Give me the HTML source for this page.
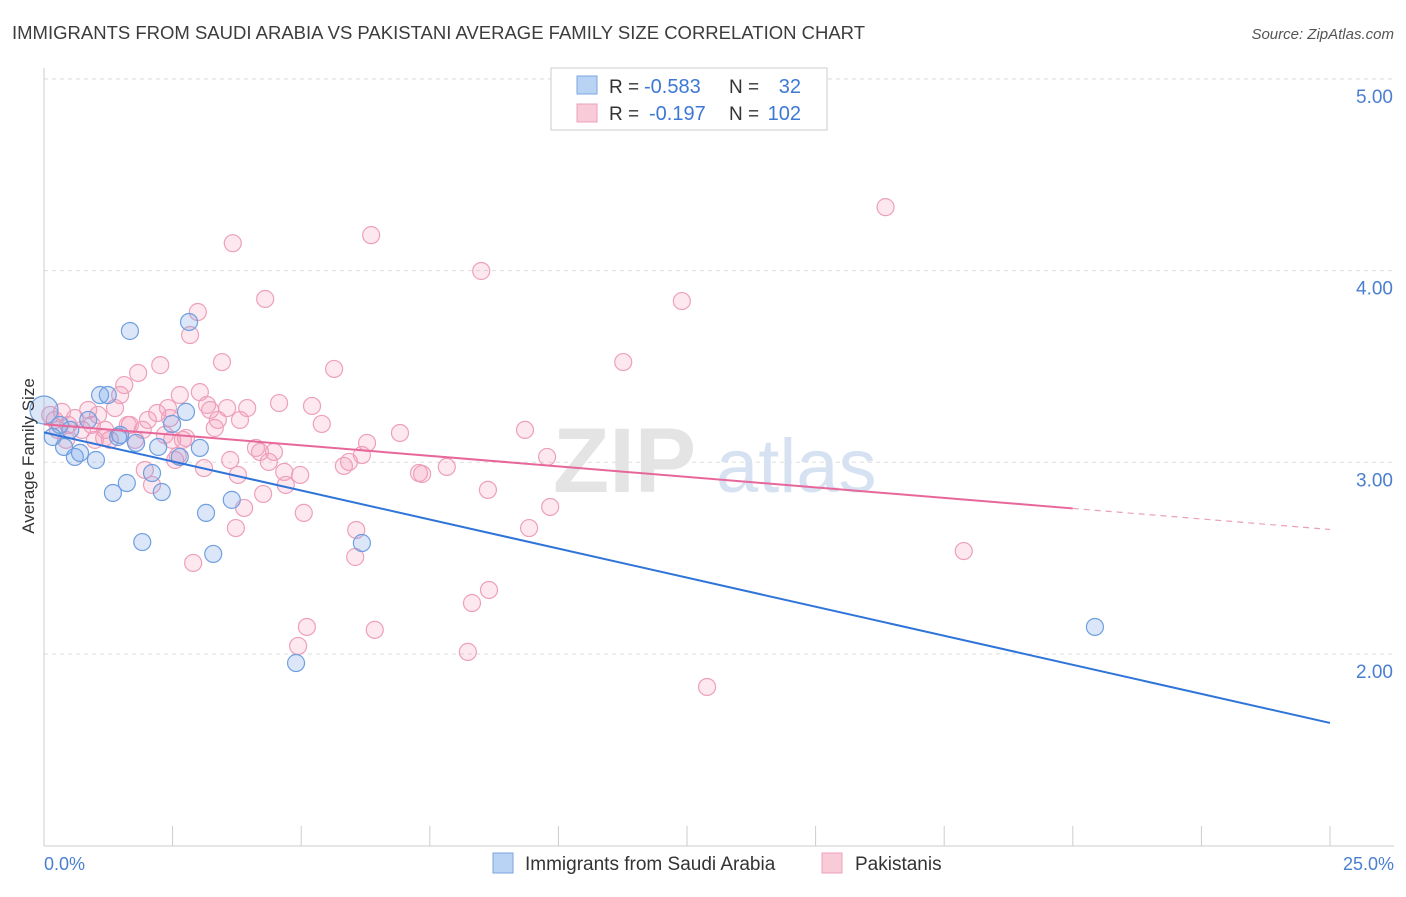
<!DOCTYPE html>
<html><head><meta charset="utf-8"><style>
body{margin:0;background:#fff;font-family:"Liberation Sans",sans-serif;}
svg text{font-family:"Liberation Sans",sans-serif;}
</style></head><body>
<svg id="chart" width="1406" height="892">
<text x="12" y="39" font-size="18" fill="#3c3c3c" textLength="853" lengthAdjust="spacingAndGlyphs">IMMIGRANTS FROM SAUDI ARABIA VS PAKISTANI AVERAGE FAMILY SIZE CORRELATION CHART</text>
<text x="1394" y="39" font-size="15" fill="#555" font-style="italic" text-anchor="end">Source: ZipAtlas.com</text>
<g id="grid"></g>
<g><text x="553" y="492" font-size="92" fill="#e4e4e4" font-family="Liberation Serif" font-weight="bold">ZIP</text><text x="716" y="492" font-size="76" fill="#d6e2f2">atlas</text></g>
<g id="axes"></g>
<g id="pts"></g>
<g id="lines"></g>
<text transform="translate(34,456) rotate(-90)" font-size="17" fill="#333" text-anchor="middle">Average Family Size</text>
<text x="44" y="870" font-size="18" fill="#4a7fd0">0.0%</text>
<text x="1394" y="870" font-size="18" fill="#4a7fd0" text-anchor="end">25.0%</text>
<g>
<rect x="551" y="68" width="276" height="62" fill="#fff" stroke="#ccc"/>
<rect x="577" y="76" width="20" height="18" fill="#b9d3f5" stroke="#7aa6e0"/>
<rect x="577" y="104" width="20" height="18" fill="#f9cad8" stroke="#eda0bb"/>
<text x="609" y="93" font-size="19" fill="#333">R =</text>
<text x="644" y="93" font-size="20" fill="#3d78d6">-0.583</text>
<text x="729" y="93" font-size="19" fill="#333">N =</text>
<text x="801" y="93" font-size="20" fill="#3d78d6" text-anchor="end">32</text>
<text x="609" y="120" font-size="19" fill="#333">R =</text>
<text x="649" y="120" font-size="20" fill="#3d78d6">-0.197</text>
<text x="729" y="120" font-size="19" fill="#333">N =</text>
<text x="801" y="120" font-size="20" fill="#3d78d6" text-anchor="end">102</text>
</g>
<g>
<rect x="493" y="853" width="20" height="20" fill="#b9d3f5" stroke="#7aa6e0"/>
<text x="525" y="870" font-size="19" fill="#333">Immigrants from Saudi Arabia</text>
<rect x="822" y="853" width="20" height="20" fill="#f9cad8" stroke="#eda0bb"/>
<text x="855" y="870" font-size="19" fill="#333">Pakistanis</text>
</g>
</svg>
<script>
const yTicks=[2,3,4,5];
const yTickLabels=["2.00","3.00","4.00","5.00"];
const blueX=[0,0.17,0.39,0.60,0.70,1.01,1.09,1.24,1.34,1.44,1.61,1.67,1.79,1.91,2.10,2.22,2.29,2.49,2.64,2.76,2.82,3.03,3.15,3.29,3.65,4.90,6.18,20.43,0.86,0.31,0.51,1.48];
const blueY=[3.273,3.132,3.080,3.028,3.049,3.012,3.351,3.351,2.840,3.132,2.892,3.685,3.101,2.584,2.944,3.080,2.845,3.200,3.028,3.263,3.732,3.075,2.736,2.522,2.804,1.953,2.579,2.141,3.221,3.195,3.169,3.143];
const pinkX=[0.12,0.21,0.35,0.47,0.60,0.74,0.86,0.93,1.05,1.17,1.28,1.38,1.48,1.56,1.67,1.77,1.83,1.92,2.02,2.10,2.20,2.26,2.35,2.45,2.49,2.55,2.64,2.70,2.76,2.84,2.90,2.99,3.03,3.11,3.17,3.23,3.32,3.38,3.46,3.56,3.67,3.73,3.77,3.81,3.89,3.95,4.12,4.26,4.30,4.37,4.47,4.57,4.67,4.70,4.94,5.05,5.11,5.21,5.40,5.64,5.83,5.93,6.07,6.05,6.18,6.28,6.36,6.43,6.92,7.29,7.35,7.83,8.24,8.32,8.50,8.63,8.65,9.35,9.43,9.78,9.84,11.26,12.40,12.89,16.36,17.88,0.27,0.43,0.99,1.19,1.63,1.96,2.41,2.60,4.20,4.98,3.62];
const pinkY=[3.247,3.221,3.263,3.195,3.231,3.169,3.273,3.195,3.247,3.127,3.117,3.283,3.351,3.403,3.195,3.117,3.466,3.169,3.221,2.882,3.257,3.507,3.143,3.231,3.117,3.012,3.351,3.117,3.127,3.664,2.475,3.784,3.366,2.970,3.299,3.273,3.179,3.221,3.523,3.283,4.143,2.657,2.934,3.221,2.762,3.283,3.075,2.835,3.852,3.002,3.054,3.309,2.950,2.882,2.042,2.736,2.141,3.294,3.200,3.487,2.981,3.002,2.647,2.506,3.038,3.101,4.185,2.126,3.153,2.944,2.939,2.976,2.011,2.266,3.998,2.856,2.334,3.169,2.657,3.028,2.767,3.523,3.841,1.828,4.331,2.537,3.169,3.117,3.117,3.169,3.195,2.960,3.283,3.033,3.054,2.934,3.012];
const NS='http://www.w3.org/2000/svg';
const X=v=>44+v/25*1286;
const Y=v=>845.7-(v-1)*191.7;
function mk(tag,attrs,parent){const e=document.createElementNS(NS,tag);for(const k in attrs)e.setAttribute(k,attrs[k]);parent.appendChild(e);return e;}
const grid=document.getElementById('grid'),axes=document.getElementById('axes');
yTicks.forEach((t,i)=>{
  const l=mk('line',{x1:44,x2:1394,y1:Y(t),y2:Y(t),stroke:'#ddd','stroke-dasharray':'4,4'},grid);
  
  
  const tx=mk('text',{x:1393,y:Y(t)+24,'font-size':19,fill:'#4a7fd0','text-anchor':'end'},axes);
  tx.textContent=yTickLabels[i];
  
  
});
mk('line',{x1:44,x2:1394,y1:79,y2:79,stroke:'#ddd','stroke-dasharray':'4,4'},grid);
mk('line',{x1:44,x2:44,y1:68,y2:846,stroke:'#ccc'},axes);
mk('line',{x1:44,x2:1394,y1:846,y2:846,stroke:'#ccc'},axes);
for(let i=0;i<=10;i++){const t=mk('line',{x1:X(i*2.5),x2:X(i*2.5),y1:826,y2:846,stroke:'#ccc'},axes);
  
  }
const pts=document.getElementById('pts');
pinkX.forEach((x,i)=>{const c=mk('circle',{cx:X(x),cy:Y(pinkY[i]),r:8.5,fill:'rgba(244,150,180,0.22)',stroke:'#eda0bb','stroke-width':1.2},pts);
  
  });
blueX.forEach((x,i)=>{const c=mk('circle',{cx:X(x),cy:Y(blueY[i]),r:i===0?14:8.5,fill:'rgba(110,160,230,0.25)',stroke:'#6f9fe0','stroke-width':1.2},pts);
  
  });
function fit(xs,ys){const n=xs.length;let mx=0,my=0;xs.forEach((x,i)=>{mx+=x;my+=ys[i];});mx/=n;my/=n;let sxy=0,sxx=0;xs.forEach((x,i)=>{sxy+=(x-mx)*(ys[i]-my);sxx+=(x-mx)*(x-mx);});const b=sxy/sxx;return [my-b*mx,b];}
const lines=document.getElementById('lines');
const [ba,bb]=fit(blueX,blueY);
const bl=mk('line',{x1:X(0),y1:Y(ba),x2:X(25),y2:Y(ba+bb*25),stroke:'#2f74d8','stroke-width':2},lines);


const [pa,pb]=fit(pinkX,pinkY);
const pl=mk('line',{x1:X(0),y1:Y(pa),x2:X(20),y2:Y(pa+pb*20),stroke:'#e8679a','stroke-width':2},lines);


const pd=mk('line',{x1:X(20),y1:Y(pa+pb*20),x2:X(25),y2:Y(pa+pb*25),stroke:'#e8a0bb','stroke-width':1.2,'stroke-dasharray':'6,5'},lines);


</script>
</body></html>
